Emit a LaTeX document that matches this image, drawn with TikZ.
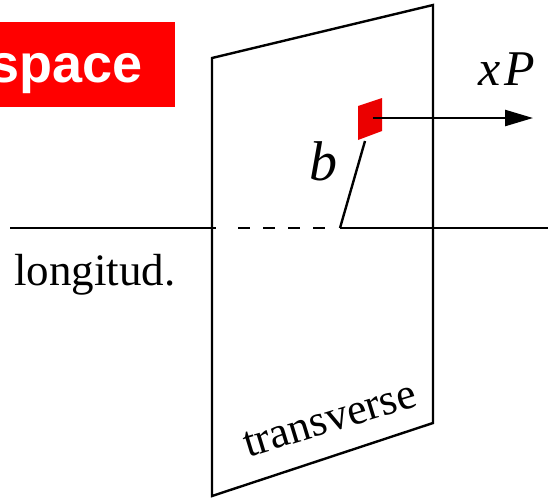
\documentclass[tikz,border=0pt]{standalone}
\usepackage{fontspec}
\setmainfont{Liberation Serif}
\newfontfamily\boldsans{Liberation Sans}
\usetikzlibrary{arrows.meta}
\begin{document}
\begin{tikzpicture}[x=1pt,y=-1pt,
  edge/.style={line width=2.4pt,black},
  lbl/.style={inner sep=0pt,outer sep=0pt},
]
\useasboundingbox (0,0) rectangle (556,499);
\clip (0,0) rectangle (556,499);
% title box
\fill[red] (0,22) rectangle (175,107);
\node[lbl,anchor=base east,text=white,font=\boldsans\bfseries\fontsize{54}{54}\selectfont] (title) at (143,82) {space};
% coordinates
\coordinate (L) at (10,228);
\coordinate (A) at (216,228);
\coordinate (D1) at (238,228);
\coordinate (D2) at (326,228);
\coordinate (C) at (340,228);
\coordinate (R) at (548,228);
\coordinate (P1) at (212,58);
\coordinate (P2) at (433,5);
\coordinate (P3) at (433,423);
\coordinate (P4) at (212,496);
% axis
\draw[edge] (L) -- (A);
\draw[edge,dash pattern=on 12pt off 13pt] (D1) -- (D2);
\draw[edge] (C) -- (R);
% plane
\draw[edge,line join=miter] (P1) -- (P2) -- (P3) -- (P4) -- cycle;
% impact parameter
\coordinate (Q) at (365,141);
\draw[edge] (C) -- (Q);
% red patch
\fill[red!92!black] (358,106) -- (382,98) -- (382,131) -- (358,140) -- cycle;
\coordinate (S) at (373,118);
\coordinate (T) at (533,118);
\draw[edge,-{Triangle[length=28pt,width=16pt]}] (S) -- (T);
% labels
\node[lbl,anchor=base west,font=\fontsize{50}{50}\selectfont\itshape] (xp) at (478,85) {x\kern4pt P};
\node[lbl,anchor=base west,font=\fontsize{56}{56}\selectfont\itshape] (b) at (309,180) {b};
\node[lbl,anchor=base west,font=\fontsize{45}{45}\selectfont] (lon) at (14,285) {longitud.};
\node[lbl,rotate=17,font=\fontsize{44}{44}\selectfont] (tr) at (330,420) {transverse};
\end{tikzpicture}
\end{document}
